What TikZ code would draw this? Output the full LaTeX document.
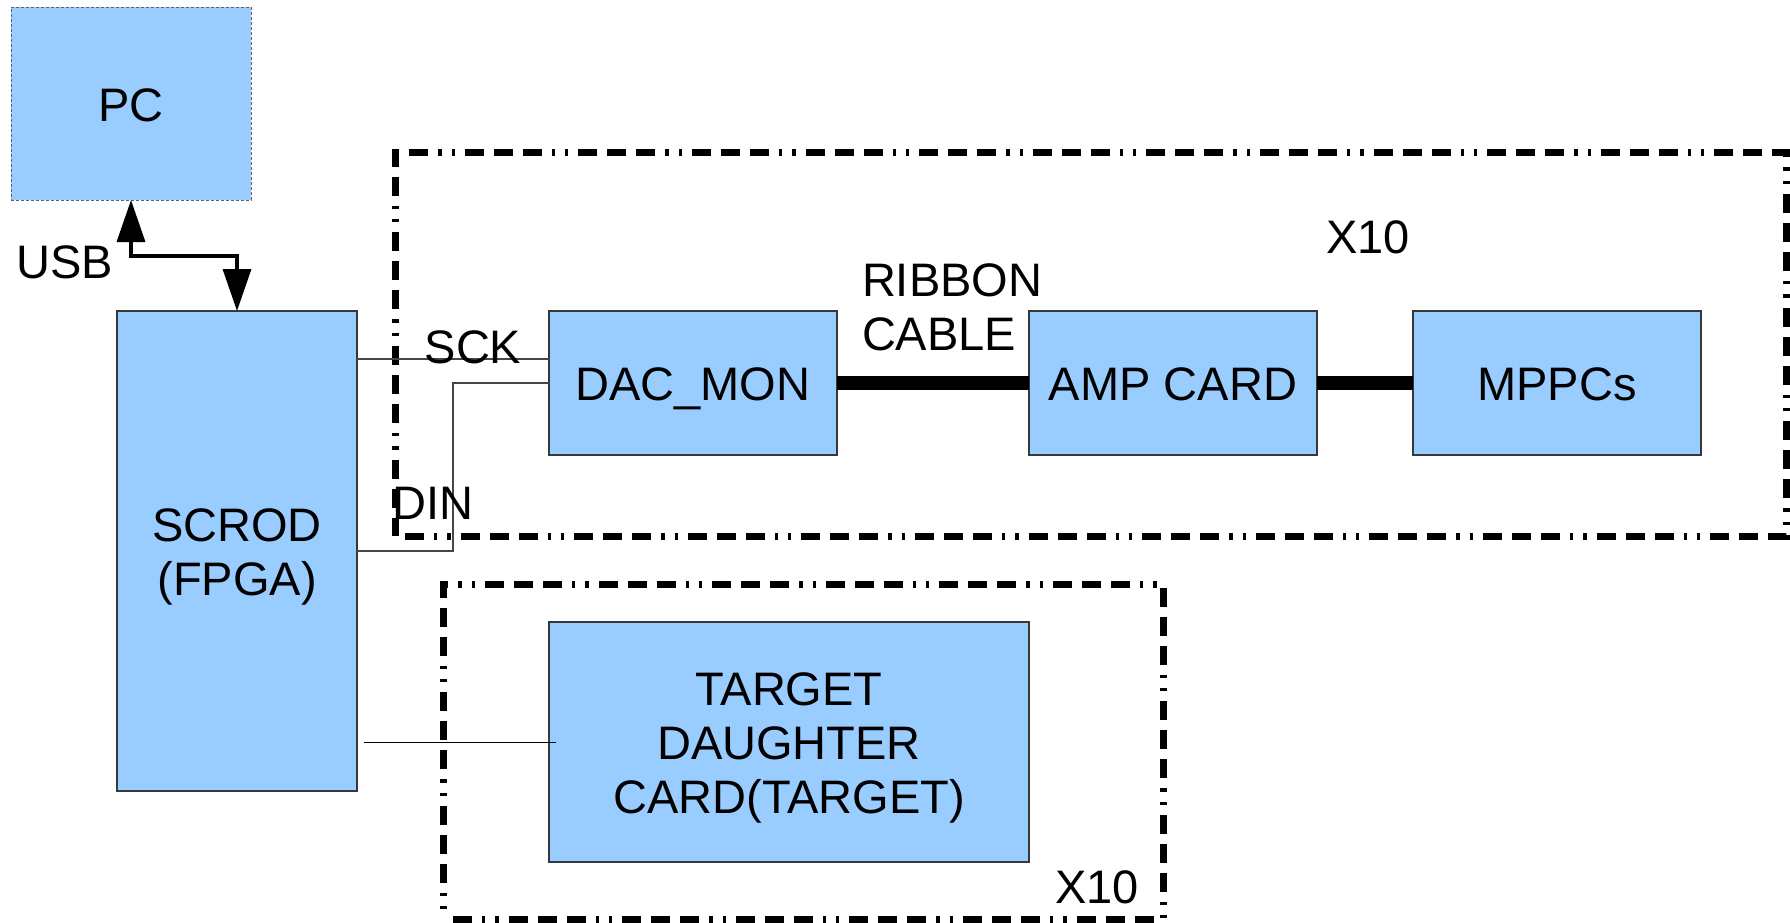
\documentclass[tikz,border=0pt]{standalone}
\usepackage{fontspec}
\setmainfont{Liberation Sans}
\usetikzlibrary{arrows.meta,calc}
\definecolor{boxfill}{RGB}{153,204,255}
\definecolor{boxline}{RGB}{55,55,60}
\definecolor{pcline}{RGB}{95,95,105}
\definecolor{wirecol}{RGB}{70,70,70}
\begin{document}
\begin{tikzpicture}[x=1pt,y=-1pt,
  every node/.style={inner sep=0pt, outer sep=0pt},
  txt/.style={font=\fontsize{47}{54}\selectfont, anchor=base},
  block/.style={draw=boxline, fill=boxfill, line width=1.3pt},
  group/.style={draw=black, line width=7pt,
    dash pattern=on 19pt off 10pt on 3.3pt off 10pt on 3.3pt off 10pt on 19pt off 10pt on 19pt off 10pt,
    dash phase=103.6pt},
  wire/.style={draw=wirecol, line width=1.2pt},
  cable/.style={draw=black, line width=14pt},
  usblink/.style={draw=black, line width=3.5pt,
    {Triangle[length=42pt,width=28pt]}-{Triangle[length=42pt,width=28pt]}}
]
\useasboundingbox (0,0) rectangle (1790,922);

% repeated sections (x10)
\node[group, minimum width=1391pt, minimum height=384pt] (dacgroup) at (1090.5,344) {};
\node[group, minimum width=720pt, minimum height=335pt] (targetgroup) at (803,751.5) {};

% blocks
\node[block, draw=pcline, line width=1pt, dash pattern=on 3pt off 2pt,
      minimum width=240pt, minimum height=193pt] (pc) at (131,103.5) {};
\node[block, minimum width=240pt, minimum height=480pt] (scrod) at (237,551) {};
\node[block, minimum width=288pt, minimum height=144pt] (dac) at (693,383) {};
\node[block, minimum width=288pt, minimum height=144pt] (amp) at (1173,383) {};
\node[block, minimum width=288pt, minimum height=144pt] (mppc) at (1557,383) {};
\node[block, minimum width=480pt, minimum height=240pt] (target) at (789,742) {};

% USB link
\draw[usblink] (pc.south) -- ++(0,56) -| (scrod.north);

% serial lines to the DAC
\draw[wire] (scrod.east |- 0,359) -- (dac.west |- 0,359);
\draw[wire] (dac.west) -- ++(-96,0) |- (scrod.east);

% link to the daughter card
\draw[draw=black, line width=1pt] ($(scrod.east |- target.west)+(7,0)$) -- ($(target.west)+(7,0)$);

% cables
\draw[cable] (dac.east) -- (amp.west);
\draw[cable] (amp.east) -- (mppc.west);

% labels
\node[txt] (pctext) at (131,121) {PC};
\node[txt] (usbtext) at (64.5,278) {USB};
\node[txt] (scrodtext) at (237,541) {SCROD};
\node[txt] (fpgatext) at (237,595) {(FPGA)};
\node[txt] (scktext) at (473,363) {SCK};
\node[txt] (dintext) at (433,519) {DIN};
\node[txt] (dactext) at (693,400) {DAC\_MON};
\node[txt] (amptext) at (1173,400) {AMP CARD};
\node[txt] (mppctext) at (1557,400) {MPPCs};
\node[txt, anchor=base west] (ribbontext) at (862,296) {RIBBON};
\node[txt, anchor=base west] (cabletext) at (862,350) {CABLE};
\node[txt] (xtop) at (1368,253) {X10};
\node[txt] (targettext1) at (789,705) {TARGET};
\node[txt] (targettext2) at (789,759) {DAUGHTER};
\node[txt] (targettext3) at (789,813) {CARD(TARGET)};
\node[txt] (xbottom) at (1097,903) {X10};
\end{tikzpicture}
\end{document}
